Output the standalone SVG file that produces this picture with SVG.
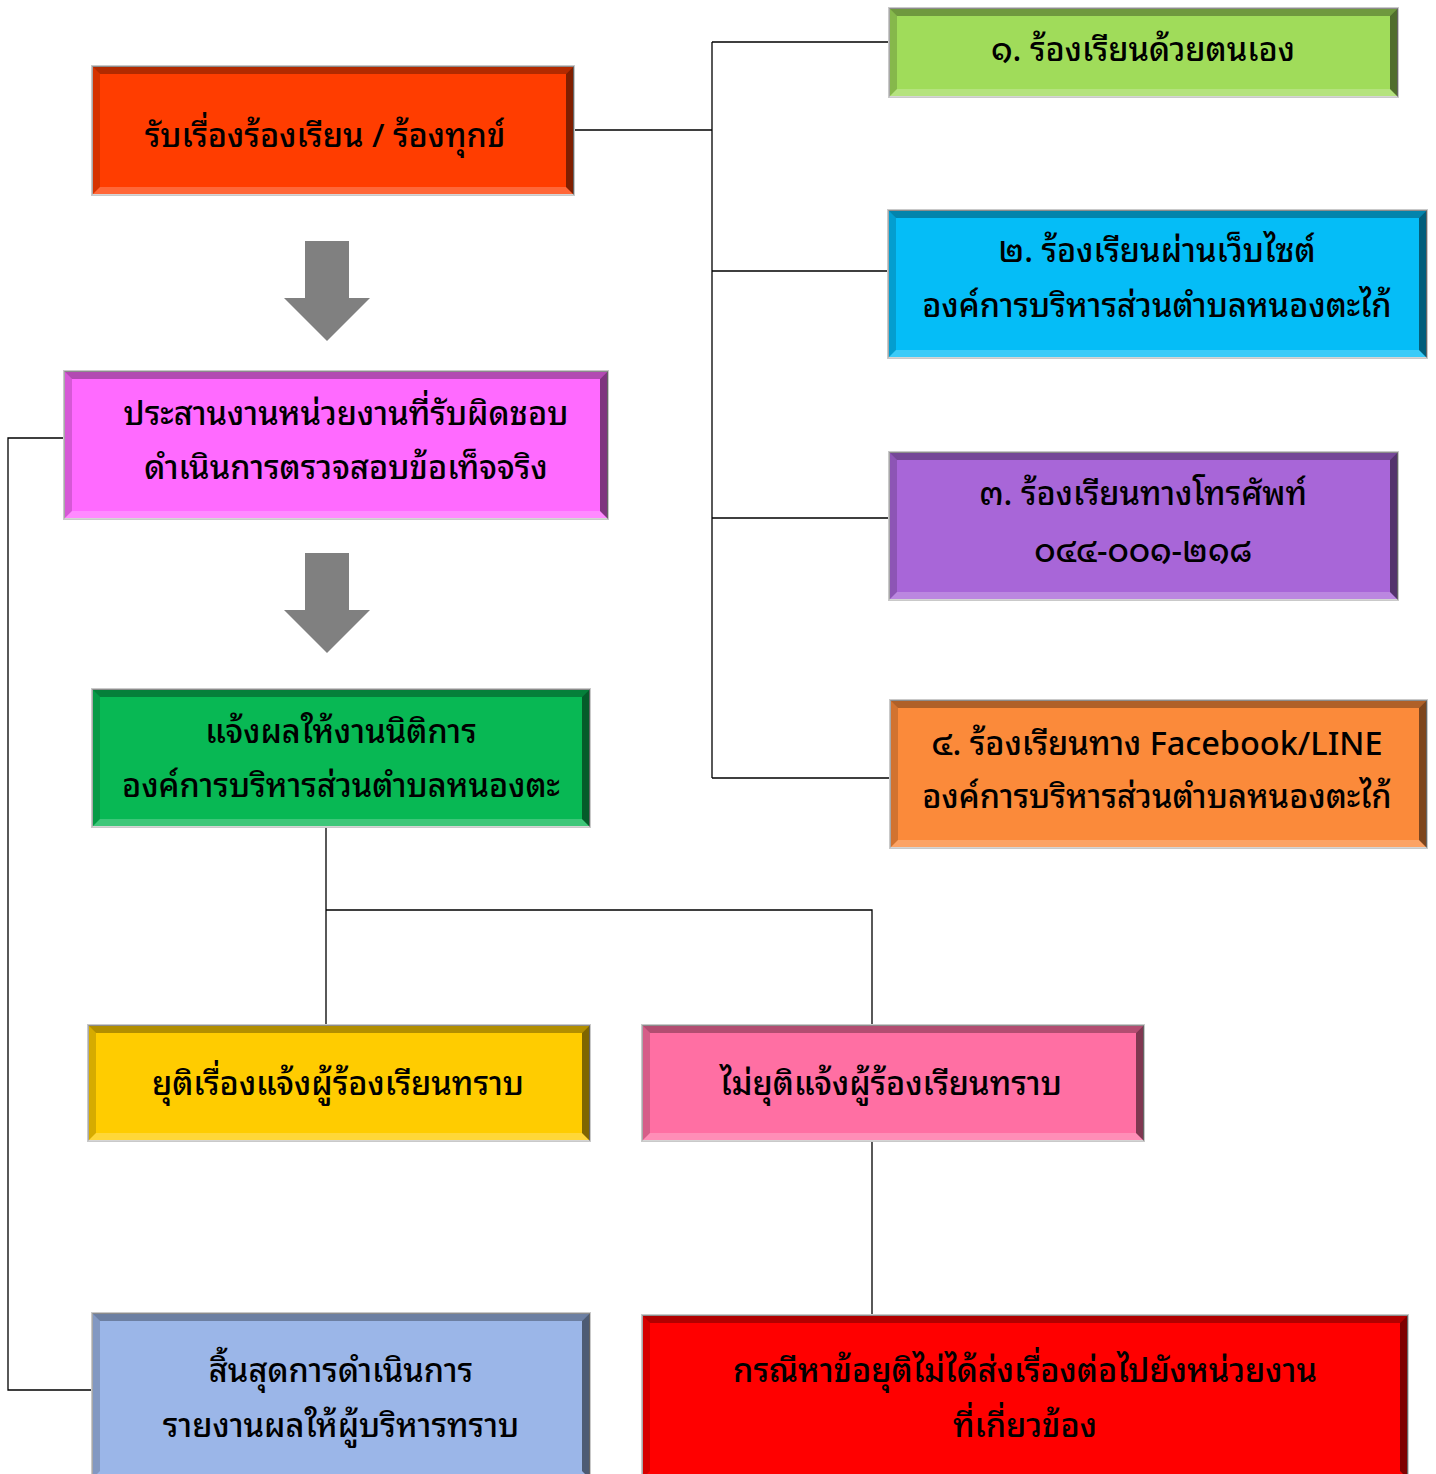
<svg xmlns="http://www.w3.org/2000/svg" width="1436" height="1474" viewBox="0 0 1436 1474">
<style>
.box{stroke:#c9c9c9;stroke-width:2}
.bt{fill:#000;opacity:0.3}
.bl{fill:#000;opacity:0.16}
.bb{fill:#fff;opacity:0.22}
.br{fill:#000;opacity:0.5}
.t{font-family:"Noto Sans Thai Looped","Noto Sans Thai","Noto Sans","DejaVu Sans",sans-serif;font-size:32.5px;font-weight:500;fill:#000;text-anchor:middle}
.c{fill:none;stroke:#000;stroke-width:1.3}
.arr{fill:#808080}
</style>
<rect width="1436" height="1474" fill="#fff"/>
<g id="connectors">
<path class="c" d="M574 130H712M712 42V778M712 42H889M712 271H888M712 518H889M712 778H890"/>
<path class="c" d="M64 438H8V1390H92"/>
<path class="c" d="M326 827V1025M326 910H872V1025M872 1141V1315"/>
</g>
<g id="arrow1"><path class="arr" d="M305 241H349V298H370L327 341L284 298H305Z"/></g>
<g id="arrow2"><path class="arr" d="M305 553H349V610H370L327 653L284 610H305Z"/></g>

<g id="n-receive">
<rect class="box" x="92" y="66" width="482" height="129" fill="#FF3D00"/>
<path class="bt" d="M92 66H574L566 74H100Z"/><path class="bl" d="M92 66V195L100 187V74Z"/><path class="bb" d="M92 195H574L566 187H100Z"/><path class="br" d="M574 66V195L566 187V74Z"/>
<text class="t" x="325" y="147">รับเรื่องร้องเรียน / ร้องทุกข์</text>
</g>

<g id="n-self">
<rect class="box" x="889" y="8" width="509" height="89" fill="#A0DC5A"/>
<path class="bt" d="M889 8H1398L1390 16H897Z"/><path class="bl" d="M889 8V97L897 89V16Z"/><path class="bb" d="M889 97H1398L1390 89H897Z"/><path class="br" d="M1398 8V97L1390 89V16Z"/>
<text class="t" x="1143" y="61">๑. ร้องเรียนด้วยตนเอง</text>
</g>

<g id="n-web">
<rect class="box" x="888" y="210" width="539" height="148" fill="#05BDF7"/>
<path class="bt" d="M888 210H1427L1419 218H896Z"/><path class="bl" d="M888 210V358L896 350V218Z"/><path class="bb" d="M888 358H1427L1419 350H896Z"/><path class="br" d="M1427 210V358L1419 350V218Z"/>
<text class="t" x="1157" y="262">๒. ร้องเรียนผ่านเว็บไซต์</text>
<text class="t" x="1157" y="317">องค์การบริหารส่วนตำบลหนองตะไก้</text>
</g>

<g id="n-phone">
<rect class="box" x="889" y="452" width="509" height="148" fill="#A866D8"/>
<path class="bt" d="M889 452H1398L1390 460H897Z"/><path class="bl" d="M889 452V600L897 592V460Z"/><path class="bb" d="M889 600H1398L1390 592H897Z"/><path class="br" d="M1398 452V600L1390 592V460Z"/>
<text class="t" x="1143" y="505">๓. ร้องเรียนทางโทรศัพท์</text>
<text class="t" x="1143" y="562">๐๔๔-๐๐๑-๒๑๘</text>
</g>

<g id="n-facebook">
<rect class="box" x="890" y="700" width="537" height="148" fill="#FB8A3A"/>
<path class="bt" d="M890 700H1427L1419 708H898Z"/><path class="bl" d="M890 700V848L898 840V708Z"/><path class="bb" d="M890 848H1427L1419 840H898Z"/><path class="br" d="M1427 700V848L1419 840V708Z"/>
<text class="t" x="1157" y="755">๔. ร้องเรียนทาง Facebook/LINE</text>
<text class="t" x="1157" y="808">องค์การบริหารส่วนตำบลหนองตะไก้</text>
</g>

<g id="n-coordinate">
<rect class="box" x="64" y="371" width="544" height="148" fill="#FF6AFF"/>
<path class="bt" d="M64 371H608L600 379H72Z"/><path class="bl" d="M64 371V519L72 511V379Z"/><path class="bb" d="M64 519H608L600 511H72Z"/><path class="br" d="M608 371V519L600 511V379Z"/>
<text class="t" x="346" y="425">ประสานงานหน่วยงานที่รับผิดชอบ</text>
<text class="t" x="346" y="479">ดำเนินการตรวจสอบข้อเท็จจริง</text>
</g>

<g id="n-legal">
<rect class="box" x="92" y="689" width="498" height="138" fill="#08B854"/>
<path class="bt" d="M92 689H590L582 697H100Z"/><path class="bl" d="M92 689V827L100 819V697Z"/><path class="bb" d="M92 827H590L582 819H100Z"/><path class="br" d="M590 689V827L582 819V697Z"/>
<text class="t" x="341" y="743">แจ้งผลให้งานนิติการ</text>
<text class="t" x="341" y="797">องค์การบริหารส่วนตำบลหนองตะ</text>
</g>

<g id="n-resolved">
<rect class="box" x="88" y="1025" width="502" height="116" fill="#FFCC00"/>
<path class="bt" d="M88 1025H590L582 1033H96Z"/><path class="bl" d="M88 1025V1141L96 1133V1033Z"/><path class="bb" d="M88 1141H590L582 1133H96Z"/><path class="br" d="M590 1025V1141L582 1133V1033Z"/>
<text class="t" x="338" y="1095">ยุติเรื่องแจ้งผู้ร้องเรียนทราบ</text>
</g>

<g id="n-unresolved">
<rect class="box" x="642" y="1025" width="502" height="116" fill="#FF6FA3"/>
<path class="bt" d="M642 1025H1144L1136 1033H650Z"/><path class="bl" d="M642 1025V1141L650 1133V1033Z"/><path class="bb" d="M642 1141H1144L1136 1133H650Z"/><path class="br" d="M1144 1025V1141L1136 1133V1033Z"/>
<text class="t" x="891" y="1095">ไม่ยุติแจ้งผู้ร้องเรียนทราบ</text>
</g>

<g id="n-end">
<rect class="box" x="92" y="1313" width="498" height="166" fill="#9BB6E8"/>
<path class="bt" d="M92 1313H590L582 1321H100Z"/><path class="bl" d="M92 1313V1479L100 1471V1321Z"/><path class="br" d="M590 1313V1479L582 1471V1321Z"/>
<text class="t" x="341" y="1382">สิ้นสุดการดำเนินการ</text>
<text class="t" x="341" y="1437">รายงานผลให้ผู้บริหารทราบ</text>
</g>

<g id="n-forward">
<rect class="box" x="642" y="1315" width="766" height="164" fill="#FF0000"/>
<path class="bt" d="M642 1315H1408L1400 1323H650Z"/><path class="bl" d="M642 1315V1479L650 1471V1323Z"/><path class="br" d="M1408 1315V1479L1400 1471V1323Z"/>
<text class="t" x="1025" y="1382">กรณีหาข้อยุติไม่ได้ส่งเรื่องต่อไปยังหน่วยงาน</text>
<text class="t" x="1025" y="1437">ที่เกี่ยวข้อง</text>
</g>
</svg>
